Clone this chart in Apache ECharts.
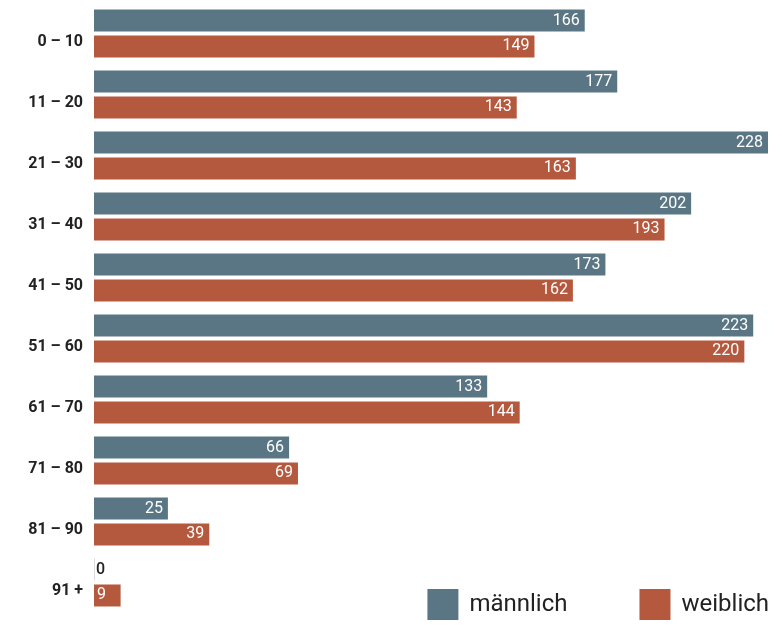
<!DOCTYPE html>
<html><head><meta charset="utf-8">
<script src="https://cdn.jsdelivr.net/npm/echarts@6/dist/echarts.min.js"></script>
<style>html,body{margin:0;padding:0;background:#fff}#c{width:782px;height:625px}</style>
</head><body><div id="c"></div>
<script>
const categories = ['0 – 10','11 – 20','21 – 30','31 – 40','41 – 50','51 – 60','61 – 70','71 – 80','81 – 90','91 +'];
const maleValues = [166,177,228,202,173,223,133,66,25,0];
const femaleValues = [149,143,163,193,162,220,144,69,39,9];
const seriesNames = ['männlich','weiblich'];
const colors = ['#5a7684','#b5593e'];

function toData(arr){
  return arr.map(v => {
    if (v === 0) return {value:v, itemStyle:{color:'#dcdcdc'}, label:{position:'right', distance:1, color:'#222', fontWeight:500}};
    if (v < 15) return {value:v, label:{position:'insideLeft', distance:3}};
    return v;
  });
}

const chart = echarts.init(document.getElementById('c'));
chart.setOption({
  animation:false,
  textStyle:{fontFamily:'Roboto'},
  grid:{left:94, right:14, top:3, bottom:12, containLabel:false},
  legend:{
    right:8, bottom:0, itemWidth:31, itemHeight:31, itemGap:72,
    icon:'rect',
    textStyle:{fontSize:24, color:'#222', fontFamily:'Roboto', padding:[0,0,0,6]},
    data:seriesNames
  },
  xAxis:{type:'value', min:0, max:228, show:false},
  yAxis:{
    type:'category', data:categories, inverse:true,
    axisLine:{show:false},
    axisTick:{show:false},
    axisLabel:{color:'#222', fontWeight:'bold', fontSize:16, margin:11, verticalAlign:'top'}
  },
  series:[
    {name:seriesNames[0], type:'bar', data:toData(maleValues), barWidth:22, barGap:'18%', barMinHeight:1,
     itemStyle:{color:colors[0]},
     label:{show:true, position:'insideRight', distance:5, color:'#fff', fontSize:16}},
    {name:seriesNames[1], type:'bar', data:toData(femaleValues), barWidth:22, barGap:'18%',
     itemStyle:{color:colors[1]},
     label:{show:true, position:'insideRight', distance:5, color:'#fff', fontSize:16}}
  ]
});
</script></body></html>
